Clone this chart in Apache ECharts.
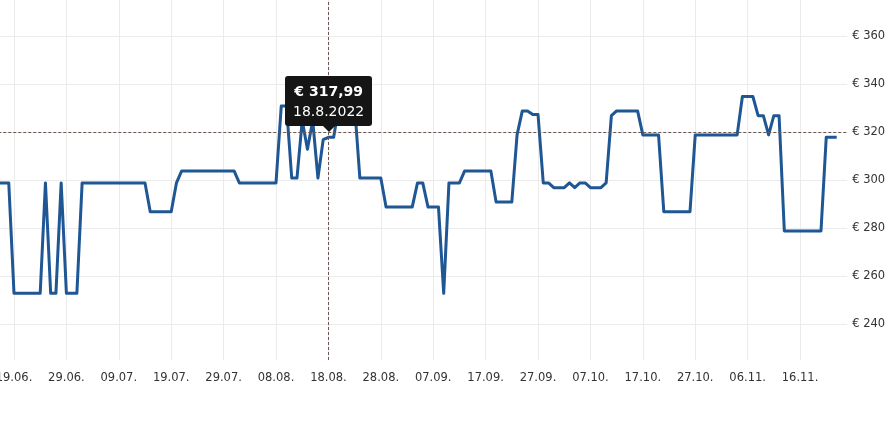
<!DOCTYPE html>
<html>
<head>
<meta charset="utf-8">
<script src="https://cdn.jsdelivr.net/npm/echarts@6/dist/echarts.min.js"></script>
<style>
html,body{margin:0;padding:0;background:#fff;}
#c{width:896px;height:428px;}
</style>
</head>
<body>
<div id="c"></div>
<script>
// ---- data ----
var startDate = '2022-06-16';
var dayCount = 163;
var tickLabels = ['19.06.', '29.06.', '09.07.', '19.07.', '29.07.', '08.08.', '18.08.', '28.08.', '07.09.',
  '17.09.', '27.09.', '07.10.', '17.10.', '27.10.', '06.11.', '16.11.'];
var yTicks = [240, 260, 280, 300, 320, 340, 360];
var prices = [
  298.99, 298.99, 298.99, 252.99, 252.99, 252.99, 252.99, 252.99, 252.99, 298.99,
  252.99, 252.99, 298.99, 252.99, 252.99, 252.99, 298.99, 298.99, 298.99, 298.99,
  298.99, 298.99, 298.99, 298.99, 298.99, 298.99, 298.99, 298.99, 298.99, 286.99,
  286.99, 286.99, 286.99, 286.99, 298.99, 303.99, 303.99, 303.99, 303.99, 303.99,
  303.99, 303.99, 303.99, 303.99, 303.99, 303.99, 298.99, 298.99, 298.99, 298.99,
  298.99, 298.99, 298.99, 298.99, 330.99, 330.99, 300.99, 300.99, 324.99, 312.99,
  324.99, 300.99, 316.99, 317.99, 317.99, 330.99, 330.99, 330.99, 330.99, 300.99,
  300.99, 300.99, 300.99, 300.99, 288.99, 288.99, 288.99, 288.99, 288.99, 288.99,
  298.99, 298.99, 288.99, 288.99, 288.99, 252.99, 298.99, 298.99, 298.99, 303.99,
  303.99, 303.99, 303.99, 303.99, 303.99, 290.99, 290.99, 290.99, 290.99, 318.99,
  328.99, 328.99, 327.49, 327.49, 298.99, 298.99, 296.99, 296.99, 296.99, 298.99,
  296.99, 298.99, 298.99, 296.99, 296.99, 296.99, 298.99, 326.99, 328.99, 328.99,
  328.99, 328.99, 328.99, 318.99, 318.99, 318.99, 318.99, 286.99, 286.99, 286.99,
  286.99, 286.99, 286.99, 318.99, 318.99, 318.99, 318.99, 318.99, 318.99, 318.99,
  318.99, 318.99, 334.99, 334.99, 334.99, 326.99, 326.99, 318.99, 326.99, 326.99,
  278.99, 278.99, 278.99, 278.99, 278.99, 278.99, 278.99, 278.99, 317.99, 317.99,
  317.99, null, null
];

// ---- build categories (one per day) ----
var dates = [];
var t0 = Date.parse(startDate + 'T00:00:00Z');
for (var i = 0; i < dayCount; i++) {
  var d = new Date(t0 + i * 86400000);
  var mm = String(d.getUTCMonth() + 1).padStart(2, '0');
  var dd = String(d.getUTCDate()).padStart(2, '0');
  dates.push(d.getUTCFullYear() + '-' + mm + '-' + dd);
}
function shortLabel(v) { var p = v.split('-'); return p[2] + '.' + p[1] + '.'; }
function longLabel(v) { var p = v.split('-'); return (+p[2]) + '.' + (+p[1]) + '.' + p[0]; }
var tickSet = {};
tickLabels.forEach(function (l) { tickSet[l] = true; });
function showTick(idx, val) { return !!tickSet[shortLabel(val)]; }

var FONT = 'DejaVu Sans';
var chart = echarts.init(document.getElementById('c'), null, { renderer: 'canvas' });
chart.setOption({
  animation: false,
  backgroundColor: '#ffffff',
  grid: { left: -1.72, right: 48.8, top: 0, bottom: 68, containLabel: false, outerBoundsMode: 'none' },
  tooltip: {
    trigger: 'axis',
    alwaysShowContent: true,
    transitionDuration: 0,
    showDelay: 0,
    hideDelay: 100000,
    backgroundColor: '#151515',
    borderWidth: 0,
    borderRadius: 3,
    padding: [5, 8],
    extraCssText: 'box-shadow:none;overflow:visible;',
    textStyle: { color: '#fff', fontFamily: FONT, fontSize: 14 },
    position: function () { return [285, 76]; },
    axisPointer: {
      type: 'cross',
      label: { show: false },
      lineStyle: { color: '#6b5853', type: [3, 2], width: 1 },
      crossStyle: { color: '#6b5853', type: [3, 2], width: 1 }
    },
    formatter: function (params) {
      var p = params[0];
      var v = '€ ' + p.value.toFixed(2).replace('.', ',');
      return '<div style="position:relative;text-align:center;line-height:20px;font-family:DejaVu Sans;font-size:14px;color:#fff;">' +
        '<div style="font-weight:bold;">' + v + '</div>' +
        '<div>' + longLabel(p.name) + '</div>' +
        '<div style="position:absolute;left:50%;bottom:-11px;margin-left:-6px;width:0;height:0;border-left:6px solid transparent;border-right:6px solid transparent;border-top:6px solid #151515;"></div>' +
        '</div>';
    }
  },
  xAxis: {
    type: 'category',
    data: dates,
    boundaryGap: false,
    axisLine: { show: false },
    axisTick: { show: false },
    axisLabel: {
      interval: showTick,
      formatter: function (v) { return shortLabel(v); },
      color: '#333',
      fontFamily: FONT,
      fontSize: 11.5,
      margin: 12
    },
    splitLine: { show: true, interval: showTick, lineStyle: { color: '#ebebeb', width: 1 } }
  },
  yAxis: {
    type: 'value',
    position: 'right',
    min: 225.2,
    max: 375.2,
    minInterval: 20,
    maxInterval: 20,
    scale: true,
    axisLine: { show: false },
    axisTick: { show: false },
    axisLabel: {
      showMinLabel: false,
      showMaxLabel: false,
      color: '#333',
      fontFamily: FONT,
      fontSize: 11.5,
      margin: 5,
      formatter: function (v) { return yTicks.indexOf(v) >= 0 ? '€ ' + v : ''; }
    },
    splitLine: { show: true, showMinLine: false, showMaxLine: false, lineStyle: { color: '#ebebeb', width: 1 } }
  },
  series: [{
    type: 'line',
    data: prices,
    showSymbol: false,
    symbol: 'none',
    connectNulls: false,
    lineStyle: { color: '#1f5694', width: 3, join: 'round' },
    itemStyle: { color: '#1f5694' },
    emphasis: { disabled: true }
  }]
});
function showTip() {
  chart.dispatchAction({ type: 'showTip', x: 330, y: 132 });
}
showTip();
setTimeout(showTip, 30);
setTimeout(showTip, 200);
</script>
</body>
</html>
